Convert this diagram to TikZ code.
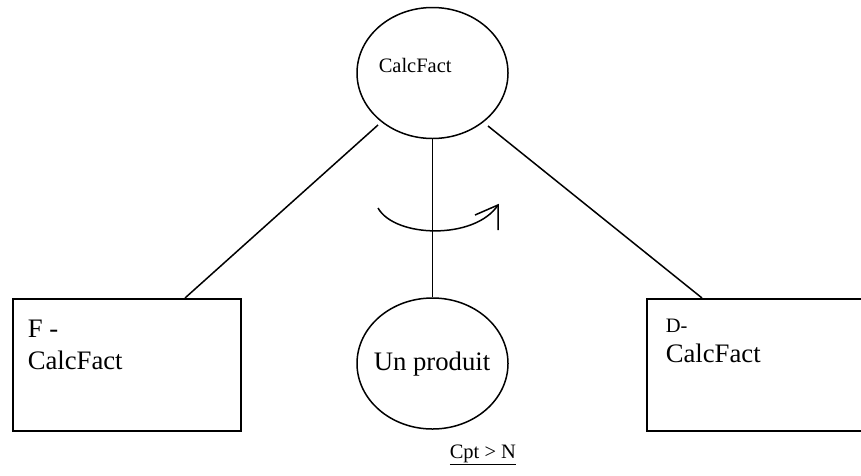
\documentclass[tikz,border=0pt]{standalone}
\usepackage{fontspec}
\setmainfont{Liberation Serif}
\usetikzlibrary{shapes.geometric,calc}
\begin{document}
\begin{tikzpicture}[x=1pt,y=-1pt,
  line width=1.5pt,
  oval/.style={draw,ellipse,inner sep=0pt,minimum width=151pt,minimum height=131pt},
  box/.style={draw,rectangle,inner sep=0pt,anchor=north west,minimum height=132pt},
  bigtxt/.style={font=\fontsize{26.7}{30}\selectfont,inner sep=0pt},
  smalltxt/.style={font=\fontsize{20.5}{24}\selectfont,inner sep=0pt}]
\useasboundingbox (0,0) rectangle (861,475);
\clip (0,0) rectangle (861,475);

% shapes
\node[oval] (calc) at (432.5,73) {};
\node[oval] (prod) at (432.5,363.5) {};
\node[box,minimum width=228pt] (fbox) at (12,298) {};
\node[box,minimum width=320pt] (dbox) at (646,298) {};

% texts
\node[smalltxt,anchor=base west] (calct) at (378,72) {CalcFact};
\node[bigtxt,anchor=base] (prodt) at (432,370) {Un produit};
\node[bigtxt,anchor=base west] (ft1) at (27,337) {F -};
\node[bigtxt,anchor=base west] (ft2) at (27,369) {CalcFact};
\node[smalltxt,anchor=base west] (dt1) at (665,332) {D-};
\node[bigtxt,anchor=base west] (dt2) at (665,362) {CalcFact};
\node[smalltxt,anchor=base west] (cond) at (449,458) {\underline{Cpt > N}};

% connectors
\coordinate (fjoin) at ($(fbox.north west)+(173,0)$);
\coordinate (djoin) at ($(dbox.north west)+(56,0)$);
\coordinate (cl) at (378,125);
\coordinate (cr) at (488,126);
\draw (fjoin) -- (cl);
\draw (djoin) -- (cr);
\draw (calc.south) -- (prod.north);

% rotation sign
\coordinate (rs) at (378,208);
\coordinate (rt) at (498,205);
\coordinate (ra) at (475,215);
\coordinate (rb) at (498,230);
\draw (rs) .. controls (395,238) and (475,240) .. (rt);
\draw (ra) -- (rt) -- (rb);
\end{tikzpicture}
\end{document}
